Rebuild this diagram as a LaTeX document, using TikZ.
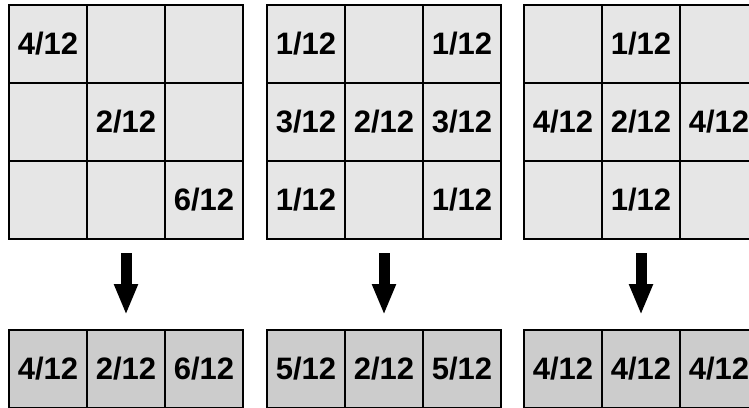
\documentclass[tikz,border=0pt]{standalone}
\usepackage{fontspec}
\setmainfont{Liberation Sans}
\usetikzlibrary{arrows.meta}
\definecolor{cellgray}{HTML}{E6E6E6}
\definecolor{sumgray}{HTML}{CCCCCC}
\tikzset{
  cell/.style={draw, line width=2pt, fill=cellgray, minimum size=78pt, inner sep=0pt,
    font=\bfseries\fontsize{31}{32}\selectfont},
  sumcell/.style={cell, fill=sumgray},
  bigarrow/.style={line width=11pt, -{Triangle[width=22pt,length=31pt]},
    shorten <=13pt, shorten >=14pt}
}
\begin{document}
\begin{tikzpicture}[x=1pt, y=-1pt]
  \useasboundingbox (0,0) rectangle (749,407);
  % 3x3 grids
  \foreach \t [count=\i from 0] in {4/12,{},{},{},2/12,{},{},{},6/12}
    \node[cell] (a\i) at ({48+78*mod(\i,3)}, {44+78*div(\i,3)}) {\t};
  \foreach \t [count=\i from 0] in {1/12,{},1/12,3/12,2/12,3/12,1/12,{},1/12}
    \node[cell] (b\i) at ({306+78*mod(\i,3)}, {44+78*div(\i,3)}) {\t};
  \foreach \t [count=\i from 0] in {{},1/12,{},4/12,2/12,4/12,{},1/12,{}}
    \node[cell] (c\i) at ({563+78*mod(\i,3)}, {44+78*div(\i,3)}) {\t};
  % summed rows
  \foreach \t [count=\i from 0] in {4/12,2/12,6/12}
    \node[sumcell] (ra\i) at ({48+78*\i}, 369) {\t};
  \foreach \t [count=\i from 0] in {5/12,2/12,5/12}
    \node[sumcell] (rb\i) at ({306+78*\i}, 369) {\t};
  \foreach \t [count=\i from 0] in {4/12,4/12,4/12}
    \node[sumcell] (rc\i) at ({563+78*\i}, 369) {\t};
  % arrows
  \draw[bigarrow] (a7.south) -- (ra1.north);
  \draw[bigarrow] (b7.south) -- (rb1.north);
  \draw[bigarrow] (c7.south) -- (rc1.north);
\end{tikzpicture}
\end{document}
